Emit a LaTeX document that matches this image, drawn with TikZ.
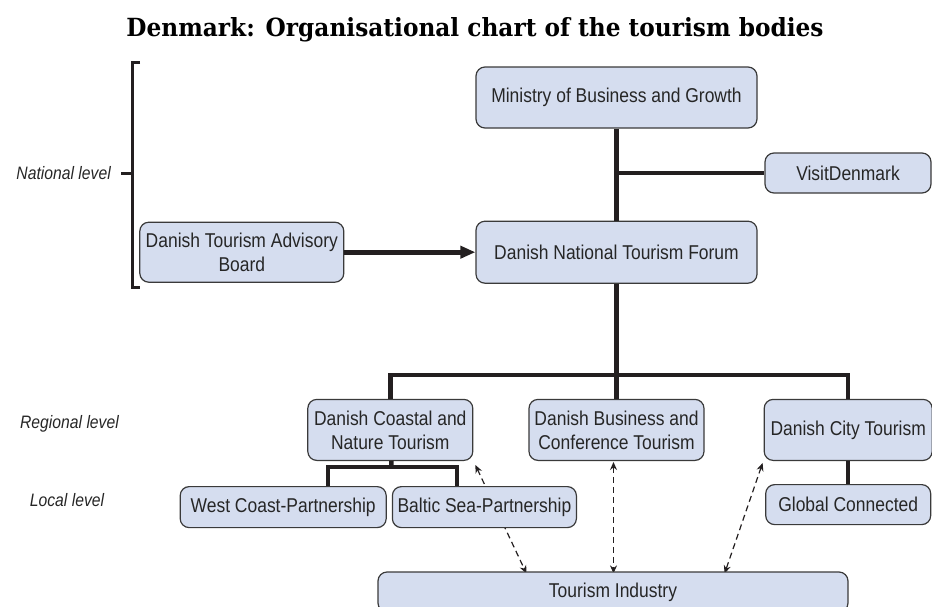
\documentclass[tikz,border=0pt]{standalone}
\usepackage{fontspec}
\usepackage{tikz}
\usetikzlibrary{positioning,arrows.meta,calc,backgrounds}

\newfontfamily\boxfont{Liberation Sans}[FakeStretch=0.873]
\newfontfamily\titlefont{DejaVu Serif}[FakeStretch=0.93]

\definecolor{boxblue}{HTML}{D5DDEF}
\definecolor{boxline}{HTML}{3A3A3A}
\definecolor{treeline}{HTML}{231F20}
\definecolor{textgray}{HTML}{262626}

\begin{document}
\begin{tikzpicture}[
      x=1pt, y=1pt,
      box/.style={
        draw=boxline, line width=1.2pt, fill=boxblue, rounded corners=9pt,
        text=textgray, font=\boxfont\fontsize{20}{24}\selectfont,
        align=center, inner sep=0pt
      },
      level/.style={text=textgray, font=\boxfont\fontsize{18}{21}\selectfont\itshape, inner sep=0pt},
      tree/.style={draw=treeline, line width=4.5pt},
      dasharrow/.style={draw=treeline, line width=1.2pt, dash pattern=on 6pt off 4pt,
        {Stealth[length=8pt,width=7pt]}-{Stealth[length=8pt,width=7pt]}},
      >=Stealth
      ]
      \useasboundingbox (0,0) rectangle (932,-606);

      \node[anchor=base, text=black, font=\titlefont\bfseries\fontsize{25}{29}\selectfont] (title) at (475,-36)
        {Denmark: Organisational chart of the tourism bodies};

      \node[box, minimum width=281pt, minimum height=61pt] (min) at (616.5,-97.5) {Ministry of Business and Growth};
      \node[box, below=92pt of min, minimum width=281pt, minimum height=62pt] (dntf) {Danish National Tourism Forum};
      \node[box, minimum width=166pt, minimum height=40pt] (vd) at (848,-173) {VisitDenmark};
      \node[box, left=131pt of dntf, minimum width=204pt, minimum height=60pt] (dtab) {Danish Tourism Advisory\\Board};

      \node[box, below=115pt of dntf, minimum width=175pt, minimum height=61pt] (dbct) {Danish Business and\\Conference Tourism};
      \node[box, left=55pt of dbct, minimum width=165pt, minimum height=61pt] (dcnt) {Danish Coastal and\\Nature Tourism};
      \node[box, right=59pt of dbct, minimum width=168pt, minimum height=61pt] (dct) {Danish City Tourism};
      \node[box, below=23pt of dct, minimum width=165pt, minimum height=40pt] (gc) {Global Connected};

      \node[box, below left=25pt and 3.5pt of dcnt.south, anchor=north east, minimum width=206pt, minimum height=41pt] (wcp) {West Coast-Partnership};
      \node[box, below right=25pt and 1.5pt of dcnt.south, anchor=north west, minimum width=184pt, minimum height=41pt] (bsp) {Baltic Sea-Partnership};

      \node[box, minimum width=470pt, minimum height=40pt] (ti) at (613,-592) {Tourism Industry};

      \node[level, anchor=east] (nat) at (111,-173) {National level};
      \node[level] (reg) at (69.5,-424) {Regional level};
      \node[level] (loc) at (67,-500) {Local level};

      \coordinate (regbar) at (616.5,-375);
      \coordinate (locbar) at (391.5,-467);
      \coordinate (wcpdrop) at (328,-467);
      \coordinate (bspdrop) at (457,-467);

  % Connect the nodes
  \draw[tree] (min) -- (dntf);
  \draw[tree] (min.south |- vd.west) -- (vd.west);
  \draw[tree] (dntf) -- (regbar);
  \draw[tree] (dcnt.north) |- (regbar) -| (dct.north);
  \draw[tree] (regbar) -- (dbct.north);
  \draw[tree] (dcnt) -- (locbar);
  \draw[tree] (wcpdrop |- wcp.north) |- (bspdrop) -- (bspdrop |- bsp.north);
  \draw[tree] (dct) -- (gc);
  \draw[draw=treeline, line width=5pt, -{Triangle[length=15pt,width=12pt]}] (dtab) -- (dntf);

  % bracket of the national level
  \draw[draw=treeline, line width=3pt] (140,-62) -- (132,-62) -- (132,-287) -- (140,-287);
  \draw[draw=treeline, line width=3pt] ($(nat.east)+(10,0)$) -- (132,-173);

  \begin{pgfonlayer}{background}
  \draw[dasharrow] ($(dcnt.south east)+(2,-4)$) -- ($(ti.north west)+(149,-2)$);
  \draw[dasharrow] ($(dbct.south)+(-3,-1)$) -- ($(dbct.south |- ti.north)+(-3,-2)$);
  \draw[dasharrow] ($(dct.south west)+(-1,-2)$) -- ($(ti.north east)+(-124,-2)$);
  \end{pgfonlayer}

\end{tikzpicture}
\end{document}
